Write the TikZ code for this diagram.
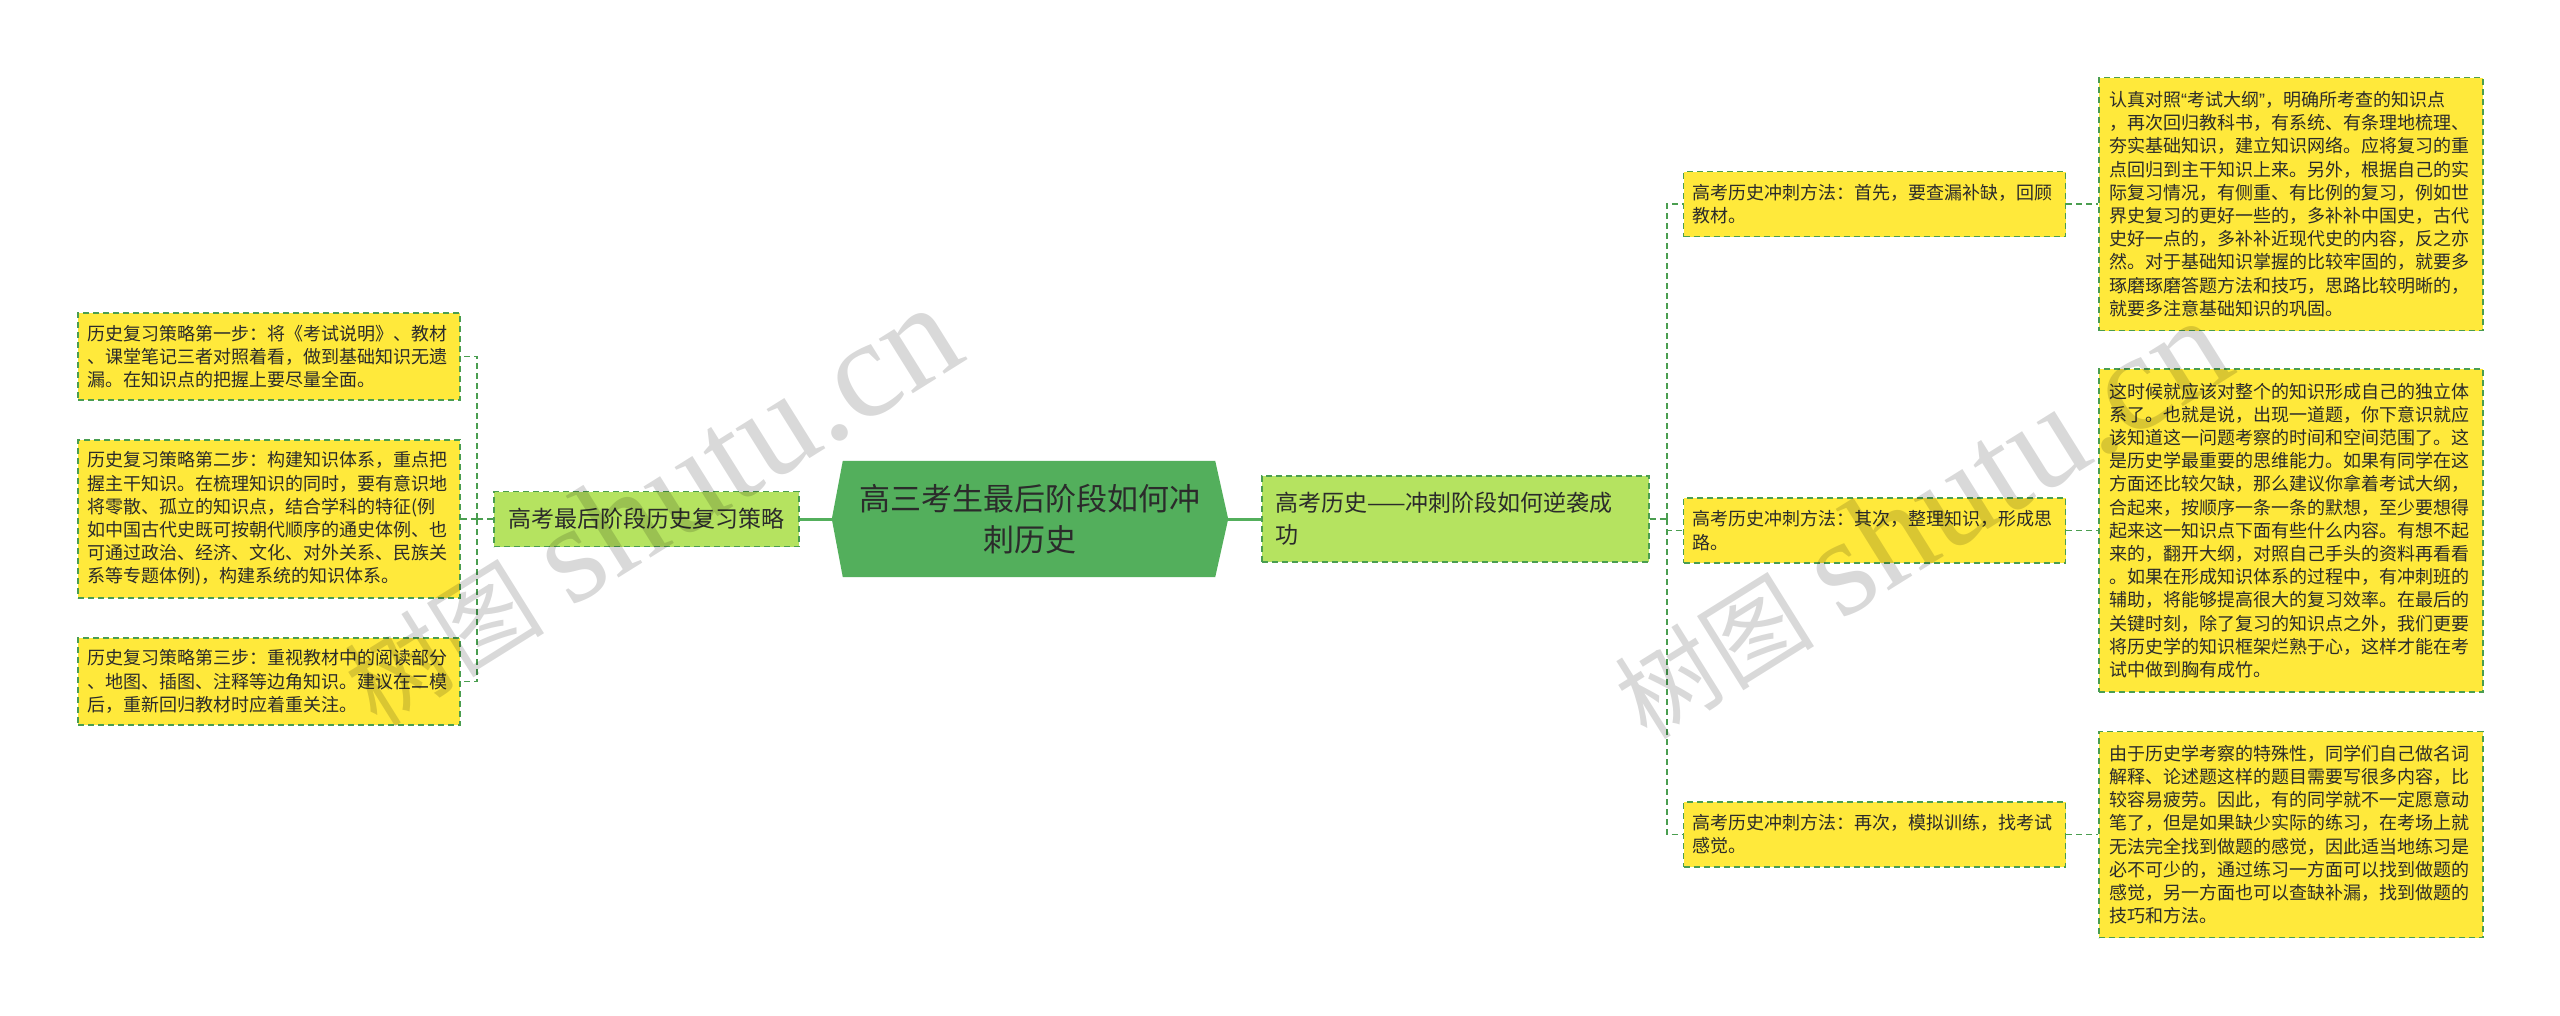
\documentclass[tikz,border=0pt]{standalone}
\usepackage{fontspec}
\setmainfont{Noto Sans CJK SC}
\newfontfamily\wmserif{Liberation Serif}
\newfontfamily\latinsans{Liberation Sans}
\usetikzlibrary{backgrounds}
\definecolor{leafyellow}{HTML}{FFE93B}
\definecolor{midgreen}{HTML}{B5E360}
\definecolor{hexgreen}{HTML}{53AF5C}
\definecolor{bordergreen}{HTML}{4A9E50}
\definecolor{textdark}{HTML}{2B2B2B}
\begin{document}
\begin{tikzpicture}[x=1pt,y=-1pt,
  boxline/.style={draw=bordergreen, dash pattern=on 6pt off 4pt, line width=1.3pt},
  leaf/.style={boxline, fill=leafyellow, text=textdark, font=\fontsize{18}{23.2}\selectfont,
    align=left, text width=364pt, inner xsep=9pt, inner ysep=0pt},
  midbox/.style={boxline, fill=midgreen, text=textdark, font=\fontsize{23}{32}\selectfont, inner ysep=0pt},
  conn/.style={draw=bordergreen, dash pattern=on 6pt off 4pt, line width=1.3pt},
  solidconn/.style={draw=hexgreen, line width=3pt},
  wm/.style={text=black, text opacity=0.15, inner sep=0pt}
]
\useasboundingbox (0,0) rectangle (2560,1015);

% left leaves
\node[leaf, minimum height=87pt] (leafL1) at (269,356.5) {历史复习策略第一步：将《考试说明》、教材\\、课堂笔记三者对照着看，做到基础知识无遗\\漏。在知识点的把握上要尽量全面。};
\node[leaf, minimum height=158pt] (leafL2) at (269,519) {历史复习策略第二步：构建知识体系，重点把\\握主干知识。在梳理知识的同时，要有意识地\\将零散、孤立的知识点，结合学科的特征(例\\如中国古代史既可按朝代顺序的通史体例、也\\可通过政治、经济、文化、对外关系、民族关\\系等专题体例)，构建系统的知识体系。};
\node[leaf, minimum height=87pt] (leafL3) at (269,681.5) {历史复习策略第三步：重视教材中的阅读部分\\、地图、插图、注释等边角知识。建议在二模\\后，重新回归教材时应着重关注。};

% middle nodes
\node[midbox, minimum width=305pt, minimum height=55pt] (midL) at (646.5,519) {高考最后阶段历史复习策略};
\node[minimum width=396pt, minimum height=116pt, inner sep=0pt, text=textdark, align=center,
  font=\fontsize{31}{41}\selectfont] (hex) at (1030,519) {高三考生最后阶段如何冲\\刺历史};
\node[midbox, minimum width=387pt, minimum height=86pt, text width=361pt, inner xsep=13pt, align=left] (midR) at (1455.5,519) {高考历史——冲刺阶段如何逆袭成\\功};

% right level-2 boxes
\node[leaf, minimum height=65pt] (boxA) at (1874.5,204) {高考历史冲刺方法：首先，要查漏补缺，回顾\\教材。};
\node[leaf, minimum height=65pt] (boxB) at (1874.5,530.5) {高考历史冲刺方法：其次，整理知识，形成思\\路。};
\node[leaf, minimum height=65pt] (boxC) at (1874.5,834.5) {高考历史冲刺方法：再次，模拟训练，找考试\\感觉。};

% right leaves
\node[leaf, minimum height=253pt, inner xsep=10pt] (leafR1) at (2291,204) {认真对照{\latinsans “}考试大纲{\latinsans ”}，明确所考查的知识点\\，再次回归教科书，有系统、有条理地梳理、\\夯实基础知识，建立知识网络。应将复习的重\\点回归到主干知识上来。另外，根据自己的实\\际复习情况，有侧重、有比例的复习，例如世\\界史复习的更好一些的，多补补中国史，古代\\史好一点的，多补补近现代史的内容，反之亦\\然。对于基础知识掌握的比较牢固的，就要多\\琢磨琢磨答题方法和技巧，思路比较明晰的，\\就要多注意基础知识的巩固。};
\node[leaf, minimum height=323pt, inner xsep=10pt] (leafR2) at (2291,530.5) {这时候就应该对整个的知识形成自己的独立体\\系了。也就是说，出现一道题，你下意识就应\\该知道这一问题考察的时间和空间范围了。这\\是历史学最重要的思维能力。如果有同学在这\\方面还比较欠缺，那么建议你拿着考试大纲，\\合起来，按顺序一条一条的默想，至少要想得\\起来这一知识点下面有些什么内容。有想不起\\来的，翻开大纲，对照自己手头的资料再看看\\。如果在形成知识体系的过程中，有冲刺班的\\辅助，将能够提高很大的复习效率。在最后的\\关键时刻，除了复习的知识点之外，我们更要\\将历史学的知识框架烂熟于心，这样才能在考\\试中做到胸有成竹。};
\node[leaf, minimum height=206pt, inner xsep=10pt] (leafR3) at (2291,834.5) {由于历史学考察的特殊性，同学们自己做名词\\解释、论述题这样的题目需要写很多内容，比\\较容易疲劳。因此，有的同学就不一定愿意动\\笔了，但是如果缺少实际的练习，在考场上就\\无法完全找到做题的感觉，因此适当地练习是\\必不可少的，通过练习一方面可以找到做题的\\感觉，另一方面也可以查缺补漏，找到做题的\\技巧和方法。};

% background and hexagon
\begin{scope}[on background layer]
  \fill[white] (0,0) rectangle (2560,1015);
  \fill[hexgreen] (hex.west) -- ([xshift=11pt]hex.north west) -- ([xshift=-13pt]hex.north east)
    -- (hex.east) -- ([xshift=-13pt]hex.south east) -- ([xshift=11pt]hex.south west) -- cycle;
\end{scope}

% connectors
\coordinate (lbus) at (477,519);
\coordinate (rbus) at (1667,519);
\draw[solidconn] (midL.east) -- (hex.west);
\draw[solidconn] (hex.east) -- (midR.west);
\draw[conn] (midL.west) -- (lbus);
\draw[conn] (lbus) |- (leafL1.east);
\draw[conn] (lbus) |- (leafL2.east);
\draw[conn] (lbus) |- (leafL3.east);
\draw[conn] (midR.east) -- (rbus);
\draw[conn] (rbus) |- (boxA.west);
\draw[conn] (rbus) |- (boxB.west);
\draw[conn] (rbus) |- (boxC.west);
\draw[conn] (boxA.east) -- (leafR1.west);
\draw[conn] (boxB.east) -- (leafR2.west);
\draw[conn] (boxC.east) -- (leafR3.west);

% watermarks
\node[wm, rotate=32] (wm1) at (650,506) {{\fontsize{100}{100}\selectfont 树图}\hspace{28pt}{\wmserif\fontsize{140}{140}\selectfont shutu.cn}};
\node[wm, rotate=32] (wm2) at (1920,519) {{\fontsize{100}{100}\selectfont 树图}\hspace{28pt}{\wmserif\fontsize{140}{140}\selectfont shutu.cn}};
\end{tikzpicture}
\end{document}
